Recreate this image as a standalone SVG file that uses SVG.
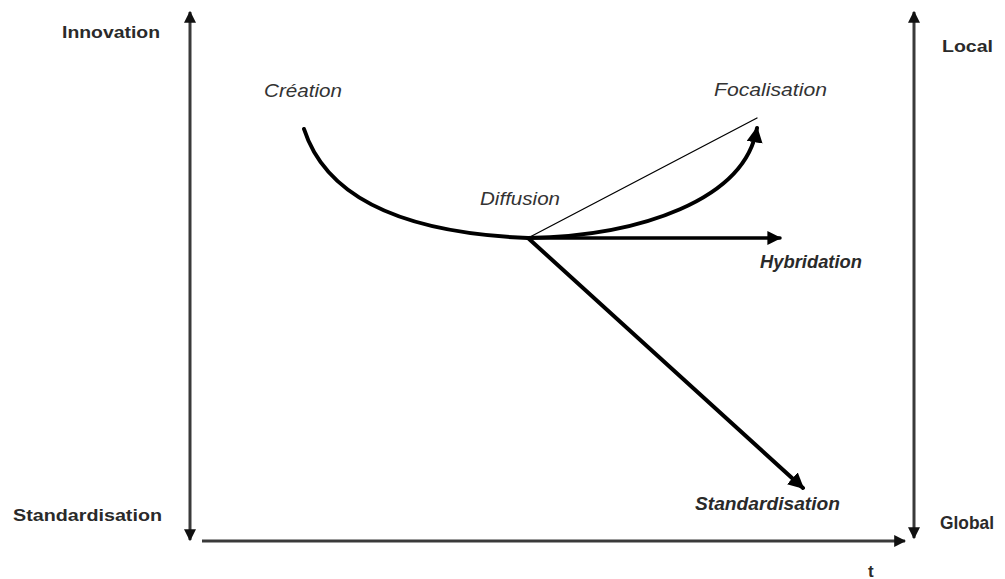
<svg xmlns="http://www.w3.org/2000/svg" width="1005" height="579" viewBox="0 0 1005 579">
  <style>
    .axis { stroke: #3a3a3a; stroke-width: 3; fill: none; }
    .flow { stroke: #000; fill: none; stroke-linecap: round; }
    .lbl-axis { font-family: "Liberation Sans", Arial, sans-serif; font-weight: bold; font-size: 17px; fill: #2a2a2a; }
    .lbl-it { font-family: "Liberation Sans", Arial, sans-serif; font-style: italic; font-size: 19px; fill: #333; }
    .lbl-bi { font-family: "Liberation Sans", Arial, sans-serif; font-style: italic; font-weight: bold; font-size: 18px; fill: #2a2a2a; }
  </style>
  <defs>
    <marker id="ax" viewBox="0 0 10 10" refX="9" refY="5" markerWidth="4" markerHeight="4" orient="auto-start-reverse" markerUnits="strokeWidth">
      <path d="M0,0 L10,5 L0,10 z" fill="#111"/>
    </marker>
    <marker id="ar" viewBox="0 0 10 10" refX="9" refY="5" markerWidth="4" markerHeight="4" orient="auto" markerUnits="strokeWidth">
      <path d="M0,0 L10,5 L0,10 z" fill="#000"/>
    </marker>
  </defs>

  <rect width="1005" height="579" fill="#fff"/>

  <!-- axes -->
  <g id="axes">
    <line class="axis" x1="190" y1="12" x2="190" y2="540" marker-start="url(#ax)" marker-end="url(#ax)"/>
    <line class="axis" x1="914" y1="12" x2="914" y2="538" marker-start="url(#ax)" marker-end="url(#ax)"/>
    <line class="axis" x1="202" y1="541" x2="905" y2="541" marker-end="url(#ax)"/>
  </g>

  <!-- connectors -->
  <g id="connectors">
    <path class="flow" stroke-width="4" d="M304,129 C330,210 430,234 528,238 C640,236 745,200 757,128" marker-end="url(#ar)"/>
    <line class="flow" stroke-width="1.3" x1="528" y1="238" x2="757" y2="118"/>
    <line class="flow" stroke-width="3.5" x1="528" y1="238" x2="780" y2="238" marker-end="url(#ar)"/>
    <line class="flow" stroke-width="4" x1="528" y1="238" x2="803" y2="488" marker-end="url(#ar)"/>
  </g>

  <!-- axis labels -->
  <g id="axis-labels">
    <text class="lbl-axis" x="62" y="38" textLength="98" lengthAdjust="spacingAndGlyphs">Innovation</text>
    <text class="lbl-axis" x="13" y="521" textLength="149" lengthAdjust="spacingAndGlyphs">Standardisation</text>
    <text class="lbl-axis" x="942" y="52" textLength="51" lengthAdjust="spacingAndGlyphs">Local</text>
    <text class="lbl-axis" x="940" y="529" style="font-size:19px" textLength="54" lengthAdjust="spacingAndGlyphs">Global</text>
    <text class="lbl-axis" x="868" y="577">t</text>
  </g>

  <!-- stage labels -->
  <g id="node-creation">
    <text class="lbl-it" x="264" y="97" textLength="78" lengthAdjust="spacingAndGlyphs">Création</text>
  </g>
  <g id="node-focalisation">
    <text class="lbl-it" x="714" y="96" textLength="113" lengthAdjust="spacingAndGlyphs">Focalisation</text>
  </g>
  <g id="node-diffusion">
    <text class="lbl-it" x="480" y="205" textLength="80" lengthAdjust="spacingAndGlyphs">Diffusion</text>
  </g>
  <g id="node-hybridation">
    <text class="lbl-bi" x="760" y="268" textLength="102" lengthAdjust="spacingAndGlyphs">Hybridation</text>
  </g>
  <g id="node-standardisation">
    <text class="lbl-bi" x="695" y="510" textLength="145" lengthAdjust="spacingAndGlyphs">Standardisation</text>
  </g>
</svg>
